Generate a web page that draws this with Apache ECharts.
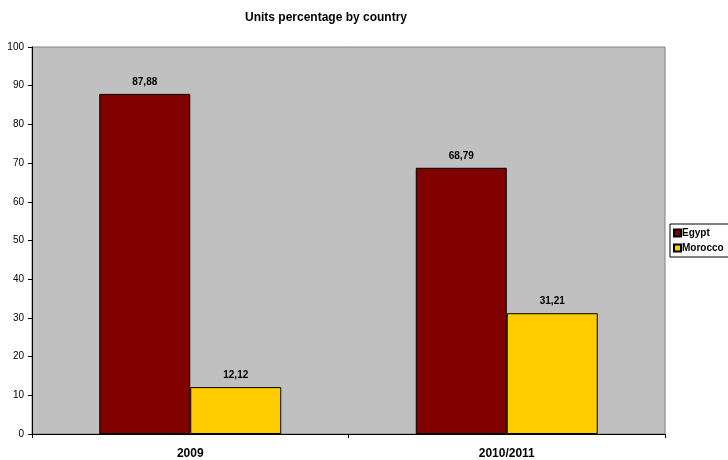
<!DOCTYPE html>
<html><head><meta charset="utf-8">
<script src="https://cdn.jsdelivr.net/npm/echarts@6/dist/echarts.min.js"></script>
<style>html,body{margin:0;padding:0;background:#fff}#c{width:728px;height:460px}</style>
</head><body><div id="c"></div>
<script>
const categories = ['2009', '2010/2011'];
const egypt = [87.88, 68.79];
const morocco = [12.12, 31.21];
const seriesNames = ['Egypt', 'Morocco'];

const chart = echarts.init(document.getElementById('c'), null, {renderer: 'canvas'});
const fmt = p => p.value.toFixed(2).replace('.', ',');
const lbl = {show: true, position: 'top', distance: 7, formatter: fmt, fontFamily: 'Liberation Sans, Arial', fontWeight: 'bold', fontSize: 10, color: '#000'};
chart.setOption({
  animation: false,
  title: {text: 'Units percentage by country', left: 321, top: 7, textAlign: 'center',
    textStyle: {fontFamily: 'Liberation Sans, Arial', fontWeight: 'bold', fontSize: 12, color: '#000'}},
  grid: {left: 32, top: 47, width: 633, height: 388, show: true, backgroundColor: '#C0C0C0', borderColor: '#808080', borderWidth: 1},
  legend: {orient: 'vertical', left: 670, top: 224, data: seriesNames, borderColor: '#000', borderWidth: 1,
    padding: [3, 20, 3, 3], itemWidth: 7, itemHeight: 7, itemGap: 3, icon: 'rect',
    textStyle: {fontFamily: 'Liberation Sans, Arial', fontWeight: 'bold', fontSize: 10, color: '#000', padding: [0, 0, 0, -4], lineHeight: 12},
    backgroundColor: '#fff'},
  xAxis: {type: 'category', data: categories,
    axisLine: {lineStyle: {color: '#000', width: 1}},
    axisTick: {show: true, length: 4, lineStyle: {color: '#000'}},
    axisLabel: {fontFamily: 'Liberation Sans, Arial', fontWeight: 'bold', fontSize: 12, color: '#000', margin: 14}},
  yAxis: {type: 'value', min: 0, max: 100, interval: 10,
    axisLine: {show: true, lineStyle: {color: '#000', width: 1}},
    axisTick: {show: true, length: 4, lineStyle: {color: '#000'}},
    splitLine: {show: false},
    axisLabel: {fontFamily: 'Liberation Sans, Arial', fontSize: 10, color: '#000', margin: 8}},
  series: [
    {name: seriesNames[0], type: 'bar', data: egypt, barGap: '0%', barCategoryGap: '42.5%',
      itemStyle: {color: '#800000', borderColor: '#000', borderWidth: 1}, label: lbl},
    {name: seriesNames[1], type: 'bar', data: morocco,
      itemStyle: {color: '#FFCC00', borderColor: '#000', borderWidth: 1}, label: lbl}
  ]
});
</script></body></html>
